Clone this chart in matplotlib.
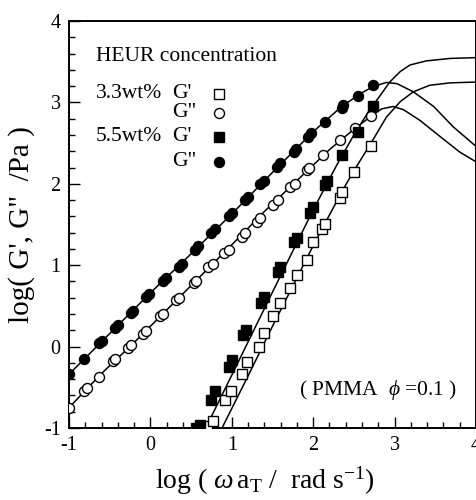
import matplotlib
matplotlib.use("Agg")
import matplotlib.pyplot as plt

plt.rcParams["font.family"] = ["Liberation Serif", "DejaVu Serif"]
plt.rcParams["mathtext.fontset"] = "custom"
plt.rcParams["mathtext.rm"] = "Liberation Serif"
plt.rcParams["mathtext.it"] = "Liberation Serif:italic"
plt.rcParams["axes.unicode_minus"] = False

# Measured moduli (log scale): 3.3 wt% and 5.5 wt% HEUR
g1_33_x = [0.70, 0.77, 0.92, 0.99, 1.12, 1.19, 1.33, 1.40, 1.51, 1.59, 1.71, 1.80,
           1.92, 2.00, 2.11, 2.15, 2.33, 2.35, 2.50, 2.71]
g1_33_y = [-0.98, -0.92, -0.66, -0.54, -0.34, -0.19, 0.00, 0.17, 0.37, 0.54, 0.72, 0.88,
           1.06, 1.29, 1.44, 1.51, 1.82, 1.90, 2.14, 2.47]

g2_33_x = [-1.00, -0.81, -0.78, -0.63, -0.46, -0.43, -0.27, -0.24, -0.09, -0.06, 0.12, 0.15,
           0.32, 0.35, 0.53, 0.56, 0.71, 0.77, 0.90, 0.96, 1.12, 1.16, 1.31, 1.35,
           1.51, 1.57, 1.71, 1.78, 1.92, 1.95, 2.12, 2.33, 2.51, 2.71]
g2_33_y = [-0.75, -0.54, -0.51, -0.37, -0.18, -0.15, -0.02, 0.02, 0.16, 0.19, 0.37, 0.40,
           0.57, 0.60, 0.78, 0.81, 0.98, 1.02, 1.15, 1.19, 1.35, 1.39, 1.53, 1.58,
           1.74, 1.80, 1.96, 2.00, 2.17, 2.20, 2.35, 2.54, 2.68, 2.83]

g1_55_x = [0.56, 0.61, 0.75, 0.79, 0.96, 1.00, 1.14, 1.18, 1.36, 1.39, 1.57, 1.59,
           1.76, 1.80, 1.96, 2.00, 2.15, 2.17, 2.35, 2.55, 2.74]
g1_55_y = [-1.00, -0.96, -0.66, -0.55, -0.25, -0.16, 0.14, 0.20, 0.54, 0.61, 0.92, 0.98,
           1.29, 1.34, 1.64, 1.72, 1.99, 2.03, 2.35, 2.64, 2.95]

g2_55_x = [-1.00, -0.81, -0.63, -0.60, -0.43, -0.40, -0.24, -0.21, -0.05, -0.02, 0.15, 0.19,
           0.35, 0.39, 0.55, 0.59, 0.75, 0.79, 0.96, 1.00, 1.16, 1.20, 1.35, 1.39,
           1.55, 1.59, 1.76, 1.79, 1.94, 1.97, 2.15, 2.35, 2.37, 2.55, 2.74]
g2_55_y = [-0.34, -0.15, 0.04, 0.07, 0.23, 0.26, 0.41, 0.44, 0.61, 0.65, 0.80, 0.84,
           0.98, 1.02, 1.19, 1.23, 1.40, 1.44, 1.60, 1.64, 1.80, 1.84, 2.00, 2.04,
           2.21, 2.25, 2.39, 2.43, 2.58, 2.62, 2.76, 2.93, 2.97, 3.08, 3.21]

# Model curves
fit_g1_55_x = [0.68, 1.00, 1.50, 2.00, 2.30, 2.50, 2.70, 2.82, 2.94, 3.07, 3.19, 3.39, 3.68, 4.00]
fit_g1_55_y = [-1.00, -0.35, 0.67, 1.68, 2.25, 2.60, 2.92, 3.08, 3.25, 3.38, 3.46, 3.51, 3.54, 3.55]

fit_g1_33_x = [0.88, 1.20, 1.50, 2.00, 2.35, 2.50, 2.71, 2.90, 3.07, 3.23, 3.43, 3.68, 4.00]
fit_g1_33_y = [-1.00, -0.36, 0.25, 1.24, 1.90, 2.16, 2.50, 2.82, 3.01, 3.13, 3.21, 3.24, 3.25]

fit_g2_55_x = [-1.00, -0.50, 0.00, 0.50, 1.00, 1.50, 2.00, 2.35, 2.60, 2.75, 2.90, 3.03,
               3.23, 3.48, 3.72, 4.00]
fit_g2_55_y = [-0.34, 0.16, 0.66, 1.14, 1.63, 2.14, 2.64, 2.95, 3.12, 3.20, 3.245, 3.23,
               3.13, 2.95, 2.70, 2.46]

fit_g2_33_x = [-1.00, -0.60, -0.20, 0.20, 0.60, 1.00, 1.40, 1.80, 2.20, 2.50, 2.71, 2.84,
               2.98, 3.11, 3.31, 3.56, 3.80, 4.00]
fit_g2_33_y = [-0.75, -0.33, 0.05, 0.45, 0.85, 1.25, 1.66, 2.04, 2.42, 2.67, 2.83, 2.92,
               2.95, 2.91, 2.78, 2.58, 2.39, 2.27]

fig = plt.figure(figsize=(4.77, 5.0), dpi=100)
ax = fig.add_axes([69 / 477, 72 / 500, 407 / 477, 407 / 500])

lw = 1.1
for fx, fy in [(fit_g1_55_x, fit_g1_55_y), (fit_g1_33_x, fit_g1_33_y),
               (fit_g2_55_x, fit_g2_55_y), (fit_g2_33_x, fit_g2_33_y)]:
    ax.plot(fx, fy, color="black", lw=lw, zorder=2)

ms = 7.2
mew = 1.0
ax.plot(g1_33_x, g1_33_y, ls="none", marker="s", ms=ms, mfc="white", mec="black", mew=mew, zorder=3)
ax.plot(g2_33_x, g2_33_y, ls="none", marker="o", ms=ms, mfc="white", mec="black", mew=mew, zorder=3)
ax.plot(g1_55_x, g1_55_y, ls="none", marker="s", ms=ms, mfc="black", mec="black", mew=mew, zorder=3)
ax.plot(g2_55_x, g2_55_y, ls="none", marker="o", ms=ms, mfc="black", mec="black", mew=mew, zorder=3)

ax.set_xlim(-1, 4)
ax.set_ylim(-1, 4)
ax.set_xticks([-1, 0, 1, 2, 3, 4])
ax.set_yticks([-1, 0, 1, 2, 3, 4])
ax.set_xticks([v / 5 for v in range(-5, 21)], minor=True)
ax.set_yticks([v / 5 for v in range(-5, 21)], minor=True)
ax.tick_params(which="both", direction="in", top=False, right=False, width=1.0)
ax.tick_params(which="major", length=8, labelsize=14.5, pad=6)
ax.tick_params(which="minor", length=4)
for s in ax.spines.values():
    s.set_linewidth(1.4)

ax.set_ylabel("log( G', G\"  /Pa )", fontsize=21, labelpad=6)
ax.set_xlabel(r"log ( $\omega\,$a$_{\mathrm{T}}$ /  rad s$^{\mathrm{-1}}$)", fontsize=20)
ax.xaxis.set_label_coords(0.482, -0.09)

# key
tr = ax.transAxes
fs = 15.5
ax.text(0.066, 0.912, "HEUR concentration", transform=tr, fontsize=fs, va="center", ha="left")
rows = [(0.821, "3.3wt%", "G'", "s", "white"),
        (0.774, "", "G\"", "o", "white"),
        (0.715, "5.5wt%", "G'", "s", "black"),
        (0.654, "", "G\"", "o", "black")]
for yy, conc, lab, mk, fc in rows:
    if conc:
        ax.text(0.066, yy, conc, transform=tr, fontsize=fs, va="center", ha="left")
    ax.text(0.253, yy, lab, transform=tr, fontsize=fs, va="center", ha="left")
    ax.plot([0.369], [yy], transform=tr, marker=mk, ms=ms, mfc=fc, mec="black", mew=mew,
            ls="none", clip_on=False)

ax.text(1.83, -0.53, r"( PMMA  $\phi$ =0.1 )", fontsize=15.5, va="center", ha="left")

fig.savefig("out.png", dpi=100)
